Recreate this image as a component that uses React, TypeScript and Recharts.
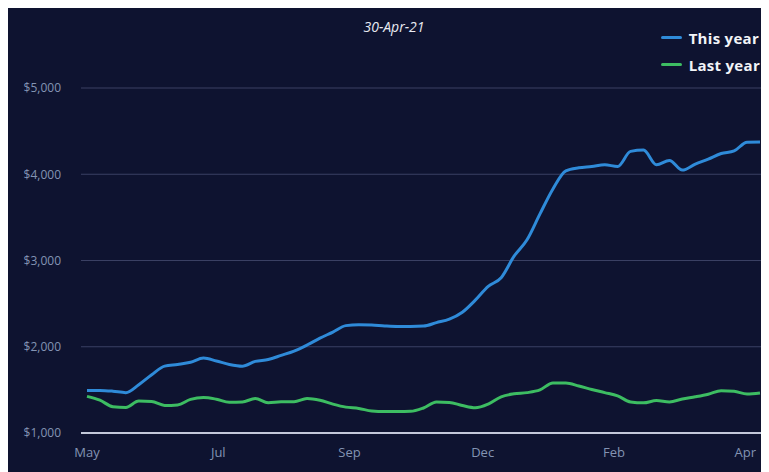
import React from "react";
import {
  LineChart,
  Line,
  XAxis,
  YAxis,
  CartesianGrid,
} from "recharts";

// weekly values, 1-May-20 .. 30-Apr-21
const thisYear = [
  1494, 1494, 1485, 1468, 1560, 1675, 1775, 1795, 1820, 1870,
  1835, 1795, 1775, 1830, 1852, 1900, 1950, 2020, 2100, 2170,
  2245, 2256, 2252, 2242, 2236, 2236, 2240, 2280, 2320, 2400,
  2540, 2700, 2800, 3050, 3240, 3540, 3830, 4040, 4075, 4090,
  4110, 4090, 4265, 4280, 4110, 4160, 4048, 4118, 4175, 4240,
  4270, 4372, 4374,
];

const lastYear = [
  1425, 1380, 1305, 1297, 1370, 1365, 1320, 1326, 1390, 1412,
  1392, 1357, 1360, 1400, 1352, 1362, 1363, 1400, 1380, 1335,
  1300, 1285, 1255, 1248, 1250, 1251, 1290, 1360, 1355, 1318,
  1292, 1335, 1420, 1454, 1468, 1500, 1580, 1580, 1545, 1505,
  1468, 1430, 1360, 1350, 1376, 1360, 1394, 1420, 1450, 1490,
  1483, 1452, 1464,
];

const startDate = "2020-05-01";
const tickDates = ["2020-05-01", "2020-07-11", "2020-09-20", "2020-12-01", "2021-02-10", "2021-04-22"];
const yTicks = [1000, 2000, 3000, 4000, 5000];
const monthNames = ["Jan", "Feb", "Mar", "Apr", "May", "Jun", "Jul", "Aug", "Sep", "Oct", "Nov", "Dec"];
const seriesNames = ["This year", "Last year"];
const title = "30-Apr-21";

const DAY = 24 * 3600 * 1000;
const t0 = Date.parse(startDate + "T00:00:00Z");

const data = thisYear.map((v, i) => ({
  date: t0 + i * 7 * DAY,
  thisYear: v,
  lastYear: lastYear[i],
}));

const xTicks = tickDates.map((d) => Date.parse(d + "T00:00:00Z"));

const BG = "#0e1330";
const BLUE = "#2f8bd9";
const GREEN = "#3dbd62";
const TICK = "#8393b3";
const FONT = "'Open Sans', 'Noto Sans', sans-serif";

const fmtMoney = (v: number) => "$" + v.toLocaleString("en-US");
const fmtMonth = (t: number) => monthNames[new Date(t).getUTCMonth()];

const LegendBox = () => (
  <div style={{ position: "absolute", top: 16, right: 9, fontFamily: FONT }}>
    {[
      { name: seriesNames[0], color: BLUE },
      { name: seriesNames[1], color: GREEN },
    ].map((it) => (
      <div key={it.name} style={{ display: "flex", alignItems: "center", height: 27 }}>
        <span
          style={{
            display: "inline-block",
            width: 21,
            height: 3,
            background: it.color,
            borderRadius: 2,
            marginRight: 7,
          }}
        />
        <span style={{ color: "#f2f4f8", fontWeight: 700, fontSize: 15, letterSpacing: 0.3 }}>
          {it.name}
        </span>
      </div>
    ))}
  </div>
);

export default function App() {
  return (
    <div style={{ position: "relative", width: 761, height: 464, background: BG }}>
      <LineChart
        width={761}
        height={464}
        data={data}
        margin={{ top: 80, right: 2, bottom: 9, left: 0 }}
      >
        <CartesianGrid horizontal vertical={false} stroke="#3a4063" strokeWidth={1} />
        <XAxis
          dataKey="date"
          type="number"
          scale="time"
          domain={["dataMin", "dataMax"]}
          ticks={xTicks}
          tickFormatter={fmtMonth}
          padding={{ left: 6, right: 7 }}
          height={30}
          axisLine={{ stroke: "#c3c8da", strokeWidth: 2 }}
          tickLine={false}
          tickMargin={9}
          tick={{ fill: TICK, fontSize: 13, fontFamily: FONT }}
        />
        <YAxis
          domain={[1000, 5000]}
          ticks={yTicks}
          tickFormatter={fmtMoney}
          width={73}
          axisLine={false}
          tickLine={false}
          tickMargin={14}
          tick={{ fill: TICK, fontSize: 12, fontFamily: FONT }}
        />
        <Line
          type="monotone"
          dataKey="thisYear"
          name={seriesNames[0]}
          stroke={BLUE}
          strokeWidth={3}
          dot={false}
          isAnimationActive={false}
        />
        <Line
          type="monotone"
          dataKey="lastYear"
          name={seriesNames[1]}
          stroke={GREEN}
          strokeWidth={3}
          dot={false}
          isAnimationActive={false}
        />
      </LineChart>
      <div
        style={{
          position: "absolute",
          left: 336,
          width: 100,
          top: 9,
          textAlign: "center",
          color: "#e8eaf2",
          fontStyle: "italic",
          fontSize: 14,
          fontFamily: FONT,
        }}
      >
        {title}
      </div>
      <LegendBox />
    </div>
  );
}
